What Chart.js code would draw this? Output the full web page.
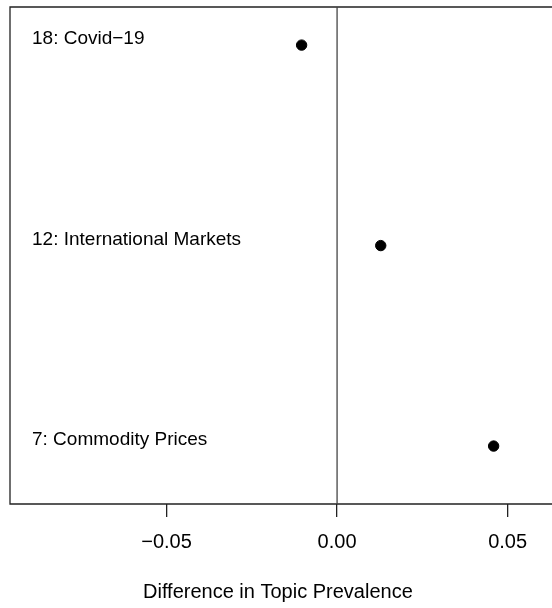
<!DOCTYPE html>
<html lang="en">
<head>
    <meta charset="UTF-8">
    <title>Difference in Topic Prevalence</title>
    <script src="https://cdn.jsdelivr.net/npm/chart.js"></script>
    <style>
        body { margin: 0; background: #fff; overflow: hidden; }
        canvas { display: block; }
    </style>
</head>
<body>
    <canvas id="topicChart" width="552" height="608"></canvas>

    <script>
        // topics from bottom to top
        const topics = ['7: Commodity Prices', '12: International Markets', '18: Covid\u221219'];
        const diffs = [0.0459, 0.0128, -0.0104];
        const xTicks = [-0.05, 0, 0.05];
        const xTitle = 'Difference in Topic Prevalence';

        const fontFamily = '"Liberation Sans", Arial, sans-serif';

        // frame (top, left, bottom - right side runs off the picture), zero line and topic labels
        const framePlugin = {
            id: 'frame',
            beforeDatasetsDraw(chart) {
                const { ctx, chartArea: a, scales } = chart;
                ctx.save();
                ctx.strokeStyle = '#222';
                ctx.lineWidth = 1.3;
                ctx.beginPath();
                ctx.moveTo(a.right + 20, a.top);
                ctx.lineTo(a.left, a.top);
                ctx.lineTo(a.left, a.bottom);
                ctx.lineTo(a.right + 20, a.bottom);
                ctx.stroke();

                const x0 = scales.x.getPixelForValue(0);
                ctx.strokeStyle = '#444';
                ctx.beginPath();
                ctx.moveTo(x0, a.top);
                ctx.lineTo(x0, a.bottom);
                ctx.stroke();

                ctx.fillStyle = '#000';
                ctx.font = '19px ' + fontFamily;
                ctx.textAlign = 'left';
                ctx.textBaseline = 'middle';
                topics.forEach((t, i) => {
                    const y = scales.y.getPixelForValue(i + 1);
                    ctx.fillText(t, a.left + 22, y - 6);
                });
                ctx.restore();
            }
        };

        const ctx = document.getElementById('topicChart').getContext('2d');
        new Chart(ctx, {
            type: 'scatter',
            data: {
                datasets: [{
                    data: diffs.map((d, i) => ({ x: d, y: i + 1 })),
                    backgroundColor: '#000',
                    borderColor: '#000',
                    pointRadius: 5.2,
                    pointHoverRadius: 5.2
                }]
            },
            options: {
                responsive: false,
                animation: false,
                layout: { padding: { left: 10, top: 7, right: 0, bottom: 0 } },
                plugins: {
                    legend: { display: false },
                    tooltip: { enabled: false }
                },
                scales: {
                    x: {
                        type: 'linear',
                        min: -0.0959,
                        max: 0.0612,
                        afterBuildTicks: (axis) => {
                            axis.ticks = xTicks.map(v => ({ value: v }));
                        },
                        border: { display: false },
                        grid: {
                            drawOnChartArea: false,
                            drawTicks: true,
                            tickLength: 13,
                            color: '#222',
                            lineWidth: 1.3
                        },
                        ticks: {
                            padding: 13,
                            color: '#000',
                            maxRotation: 0,
                            autoSkip: false,
                            font: { family: fontFamily, size: 20 },
                            callback: (v) => (v < 0 ? '\u2212' : '') + Math.abs(v).toFixed(2)
                        },
                        title: {
                            display: true,
                            text: xTitle,
                            color: '#000',
                            font: { family: fontFamily, size: 20 },
                            padding: { top: 13, bottom: 4 }
                        }
                    },
                    y: {
                        display: false,
                        min: 0.711,
                        max: 3.19
                    }
                }
            },
            plugins: [framePlugin]
        });
    </script>
</body>
</html>
